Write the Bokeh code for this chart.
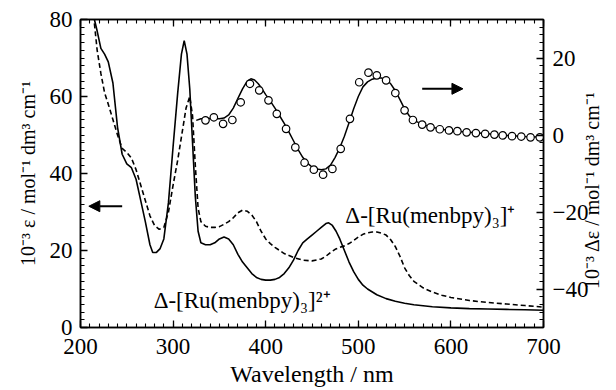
import math
from bokeh.plotting import figure
from bokeh.models import (Range1d, LinearAxis, SingleIntervalTicker, FixedTicker, Arrow, NormalHead, Label,
                          CustomJSTickFormatter)
from bokeh.embed import file_html
from bokeh.resources import INLINE

# Absorption of Δ-[Ru(menbpy)3]2+ (solid)
wl_2p = [215, 218, 222, 226, 230, 235, 240, 245, 250, 255, 260, 265, 270, 275, 278, 282, 286, 290, 295,
         300, 305, 309, 312, 315, 318, 321, 324, 327, 330, 335, 340, 345, 350, 355, 360, 365, 370, 375,
         380, 385, 390, 395, 400, 405, 410, 415, 420, 425, 430, 435, 440, 445, 450, 455, 460, 465, 468,
         472, 476, 480, 485, 490, 495, 500, 505, 510, 520, 530, 540, 550, 560, 580, 600, 620, 640, 660,
         680, 700]
eps_2p = [80, 77, 72.5, 71, 69, 63.5, 52, 45, 42.5, 41.5, 38.5, 33, 27.5, 21.5, 19.5, 19.5, 20.5, 23, 32.5,
          47, 61, 71, 74.5, 71, 62, 48, 34, 25, 22, 21.5, 21.5, 22, 23, 23.5, 23, 21.5, 19, 17,
          15.5, 14, 13, 12.5, 12.3, 12.3, 12.5, 13, 14, 15.5, 17.5, 20, 22, 23, 24, 25, 26, 27, 27.2,
          26.5, 25, 23, 20, 17, 14.5, 12.5, 11, 10, 8.5, 7.5, 6.8, 6.3, 5.9, 5.4, 5.1, 4.9, 4.8, 4.7,
          4.6, 4.5]

# Absorption of Δ-[Ru(menbpy)3]+ (dashed)
wl_1p = [215, 218, 222, 226, 230, 235, 240, 245, 250, 255, 260, 265, 270, 275, 280, 285, 290, 295, 300,
         305, 310, 314, 318, 321, 324, 327, 330, 335, 340, 345, 350, 355, 360, 365, 370, 375, 380, 385,
         390, 395, 400, 405, 410, 420, 430, 440, 450, 460, 465, 470, 475, 480, 485, 490, 495, 500, 505,
         510, 515, 520, 525, 530, 535, 540, 545, 550, 555, 560, 570, 580, 590, 600, 620, 640, 660, 680, 700]
eps_1p = [79, 72, 66, 61, 58, 54, 50, 46.5, 45.5, 44, 41, 37, 33, 29, 26.5, 25.5, 26, 30, 37,
          43.5, 51, 57, 60, 55, 42, 31, 27.5, 26.3, 26, 26, 26.2, 26.8, 27.5, 28.5, 29.8, 30.5, 30.2, 29.2,
          27.5, 25, 23, 21.8, 20.8, 19.2, 18.2, 17.5, 17.3, 17.8, 18.5, 19.5, 20.3, 20.8, 21.2, 21.8, 22.6, 23.5, 24.2,
          24.6, 24.8, 24.8, 24.5, 24, 22.8, 21, 18.5, 15.5, 13.5, 12, 10.3, 9.2, 8.4, 7.8, 7, 6.5, 6.1, 5.7, 5.3]

# CD spectrum (right axis): smooth curve
wl_cd = [325, 330, 335, 340, 345, 350, 355, 360, 365, 370, 375, 380, 384, 388, 392, 396, 400, 405, 410,
         415, 420, 425, 430, 435, 440, 445, 450, 455, 460, 465, 470, 475, 480, 485, 490, 495, 500, 505,
         510, 515, 520, 525, 530, 535, 540, 545, 550, 555, 560, 570, 580, 590, 600, 620, 640, 660, 680, 700]
de_cd = [3.8, 4.2, 4.3, 4.3, 4.2, 4.2, 4.4, 5.2, 7.0, 9.5, 12.0, 14.0, 14.6, 14.3, 13.3, 12.0, 10.5, 8.8, 7.0,
         5.0, 3.0, 0.8, -1.5, -3.8, -5.8, -7.3, -8.3, -8.8, -9.0, -8.8, -7.8, -5.8, -3.3, -0.3, 3.2, 6.8, 10.0, 12.5,
         13.8, 14.5, 14.8, 14.8, 14.4, 13.3, 11.5, 9.2, 6.8, 5.0, 3.8, 2.7, 2.0, 1.5, 1.1, 0.7, 0.3, -0.1, -0.4, -0.6]

# CD spectrum: measured points (open circles)
wl_pts = [335, 344, 354, 364, 373, 383, 393, 403, 412, 422, 432, 442, 452, 462, 472, 481, 491, 501, 511,
          520, 530, 540, 550, 559, 569, 578, 588, 598, 607, 617, 627, 637, 647, 656, 666, 676, 686, 696]
de_pts = [3.8, 4.6, 2.9, 3.9, 8.5, 13.3, 11.6, 9.0, 5.5, 1.6, -3.2, -7.2, -9.0, -10.3, -8.8, -3.6, 4.2, 13.7, 16.2,
          15.5, 14.2, 10.9, 6.4, 3.9, 2.7, 2.0, 1.5, 1.2, 1.0, 0.7, 0.5, 0.3, 0.1, -0.1, -0.3, -0.4, -0.6, -0.6]

x_range = (200, 700)
y_left = (0, 80)
y_right = (-50, 30)

FONT = "Liberation Serif"

p = figure(width=616, height=390, x_range=Range1d(*x_range), y_range=Range1d(*y_left),
           output_backend="svg", toolbar_location=None,
           min_border_left=80, min_border_right=73, min_border_top=19, min_border_bottom=63)
p.extra_y_ranges = {"cd": Range1d(*y_right)}
p.grid.visible = False
p.outline_line_color = "black"
p.outline_line_width = 1.5
p.background_fill_color = "white"
p.border_fill_color = "white"


def style(ax):
    ax.major_tick_in = 7
    ax.major_tick_out = 0
    ax.minor_tick_in = 4
    ax.minor_tick_out = 0
    ax.axis_line_width = 1.5
    ax.major_tick_line_width = 1.3
    ax.minor_tick_line_width = 1.1
    ax.axis_line_color = "black"
    ax.major_tick_line_color = "black"
    ax.minor_tick_line_color = "black"
    ax.major_label_text_font = FONT
    ax.major_label_text_font_size = "23px"
    ax.major_label_text_color = "black"
    ax.major_label_standoff = 8
    ax.axis_label_text_font = FONT
    ax.axis_label_text_font_size = "20px"
    ax.axis_label_text_font_style = "normal"
    ax.axis_label_text_color = "black"


p.xaxis.ticker = SingleIntervalTicker(interval=100, num_minor_ticks=10)
p.yaxis.ticker = SingleIntervalTicker(interval=20, num_minor_ticks=10)
style(p.xaxis[0])
style(p.yaxis[0])
p.xaxis.axis_label = "Wavelength / nm"
p.xaxis.axis_label_text_font_size = "24px"
p.xaxis.major_label_standoff = 11
p.xaxis.axis_label_standoff = 4
p.yaxis.axis_label = "10⁻³ ε / mol⁻¹ dm³ cm⁻¹"
p.yaxis.axis_label_standoff = 8

top = LinearAxis(ticker=SingleIntervalTicker(interval=100, num_minor_ticks=10),
                 formatter=CustomJSTickFormatter(code="return ''"))
style(top)
top.major_label_text_font_size = "0px"
top.major_label_standoff = 0
p.add_layout(top, "above")

# right (CD) axis with ticks and numbers
right = LinearAxis(y_range_name="cd", ticker=SingleIntervalTicker(interval=20, num_minor_ticks=10))
style(right)
right.major_label_standoff = 9
p.add_layout(right, "right")

# CD axis title: carried as the single label of an outer, line-less axis so that it
# reads bottom-to-top and starts level with Δε = -40
right_title = LinearAxis(y_range_name="cd", ticker=FixedTicker(ticks=[-40]),
                         formatter=CustomJSTickFormatter(code="return '10⁻³ Δε / mol⁻¹ dm³ cm⁻¹'"))
style(right_title)
right_title.axis_line_color = None
right_title.major_tick_line_color = None
right_title.minor_tick_line_color = None
right_title.major_tick_in = 0
right_title.minor_tick_in = 0
right_title.major_label_text_font_size = "20px"
right_title.major_label_standoff = 0
right_title.major_label_orientation = math.pi / 2
p.add_layout(right_title, "right")

p.line(wl_2p, eps_2p, line_color="black", line_width=1.6)
p.line(wl_1p, eps_1p, line_color="black", line_width=1.6, line_dash="5 3")
p.line(wl_cd, de_cd, line_color="black", line_width=1.5, y_range_name="cd")
p.scatter(wl_pts, de_pts, marker="circle", size=7.5, fill_color="white", line_color="black",
          line_width=1.2, y_range_name="cd")

p.add_layout(Arrow(end=NormalHead(size=11, fill_color="black", line_color="black"),
                   x_start=245, y_start=31.5, x_end=209, y_end=31.5,
                   line_width=2, line_color="black"))
p.add_layout(Arrow(end=NormalHead(size=11, fill_color="black", line_color="black"),
                   x_start=569, y_start=12, x_end=613, y_end=12,
                   line_width=2, line_color="black", y_range_name="cd"))

p.add_layout(Label(x=486, y=29.1, text="Δ-[Ru(menbpy)₃]⁺", text_font=FONT, text_font_size="23px",
                   text_color="black", text_baseline="alphabetic"))
p.add_layout(Label(x=279, y=7.0, text="Δ-[Ru(menbpy)₃]²⁺", text_font=FONT, text_font_size="23px",
                   text_color="black", text_baseline="alphabetic"))

open("out.html", "w").write(file_html(p, INLINE))
